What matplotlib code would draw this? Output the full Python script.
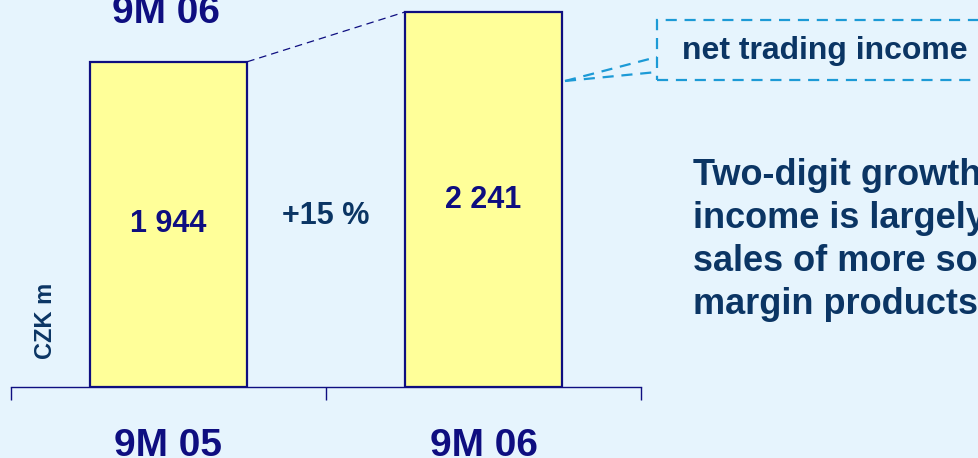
import numpy as np
import matplotlib
matplotlib.use('Agg')
import matplotlib.pyplot as plt
from matplotlib.patches import Rectangle
from matplotlib.lines import Line2D
from matplotlib.transforms import blended_transform_factory

plt.rcParams['font.family'] = ['Liberation Sans', 'DejaVu Sans']
plt.rcParams['font.weight'] = 'bold'

# 数据
categories = ['9M 05', '9M 06']
values = [1944, 2241]
value_labels = ['1 944', '2 241']
growth_label = '+15 %'
unit_label = 'CZK m'
callout_label = 'net trading income'
comment_lines = ['Two-digit growth of trading',
                 'income is largely due to',
                 'sales of more sophisticated',
                 'margin products']

W, H = 979, 458
bg = '#E6F4FD'
navy = '#0E0E80'
dark = '#0B3564'
cyan = '#1C9AD6'

def px(x, y):
    # 像素坐标 -> figure坐标
    return x / W, 1 - y / H

fig = plt.figure(figsize=(W / 100, H / 100), dpi=100, facecolor=bg)
ax = fig.add_axes([11 / W, (H - 387) / H, 630 / W, 387 / H])
ax.set_facecolor('none')

x = np.arange(len(categories))
ax.bar(x, values, width=0.5, color='#FFFF99', edgecolor=navy, linewidth=1.6, zorder=3)
ax.set_xlim(-0.5, 1.5)
ax.set_ylim(0, 2313)

# 柱顶之间的虚线
ax.plot([x[0] + 0.25, x[1] - 0.25], values, linestyle=(0, (6, 4)), color=navy, linewidth=0.9)

for xi, v, lab in zip(x, values, value_labels):
    ax.text(xi, v / 2, lab, ha='center', va='center', fontsize=22, color=navy, fontweight='bold')
ax.text(0.5, 1022, growth_label, ha='center', va='center', fontsize=22, color=dark, fontweight='bold')

for s in ['top', 'right', 'left']:
    ax.spines[s].set_visible(False)
ax.spines['bottom'].set_color(navy)
ax.spines['bottom'].set_linewidth(1.0)
ax.set_yticks([])
ax.set_xticks([-0.5, 0.5, 1.5])
ax.set_xticklabels([])
ax.tick_params(axis='x', direction='out', length=9, width=1.0, color=navy)

trans = blended_transform_factory(ax.transData, fig.transFigure)
for xi, c in zip(x, categories):
    ax.text(xi, 1 - 456 / H, c, transform=trans, ha='center', va='baseline',
            fontsize=28, color=navy, fontweight='bold', clip_on=False)
# 上方被截断的标签
ax.text(x[0] - 0.007, 1 - 23 / H, categories[1], transform=trans, ha='center', va='baseline',
        fontsize=28, color=navy, fontweight='bold', clip_on=False)

fig.text(*px(46, 321), unit_label, rotation=90, ha='center', va='center',
         fontsize=17, color=dark, fontweight='bold')

# 标注框
x0, y0 = px(657, 80)
x1, y1 = px(1000, 20)
fig.patches.append(Rectangle((x0, y0), x1 - x0, y1 - y0, transform=fig.transFigure,
                             fill=False, edgecolor=cyan, linewidth=1.6,
                             linestyle=(0, (5, 3.5))))
for ye in [57, 72]:
    a, b = px(565, 81)
    c, d = px(657, ye)
    fig.lines.append(Line2D([a, c], [b, d], transform=fig.transFigure, color=cyan,
                            linewidth=1.6, linestyle=(0, (5, 3.5))))
fig.text(*px(682, 51), callout_label, ha='left', va='center', fontsize=23,
         color=dark, fontweight='bold')

# 右侧说明文字，逐行放置
for i, line in enumerate(comment_lines):
    fig.text(*px(693, 185 + 43 * i), line, ha='left', va='baseline',
             fontsize=26, color=dark, fontweight='bold')

fig.savefig('out.png', dpi=100, facecolor=bg)
